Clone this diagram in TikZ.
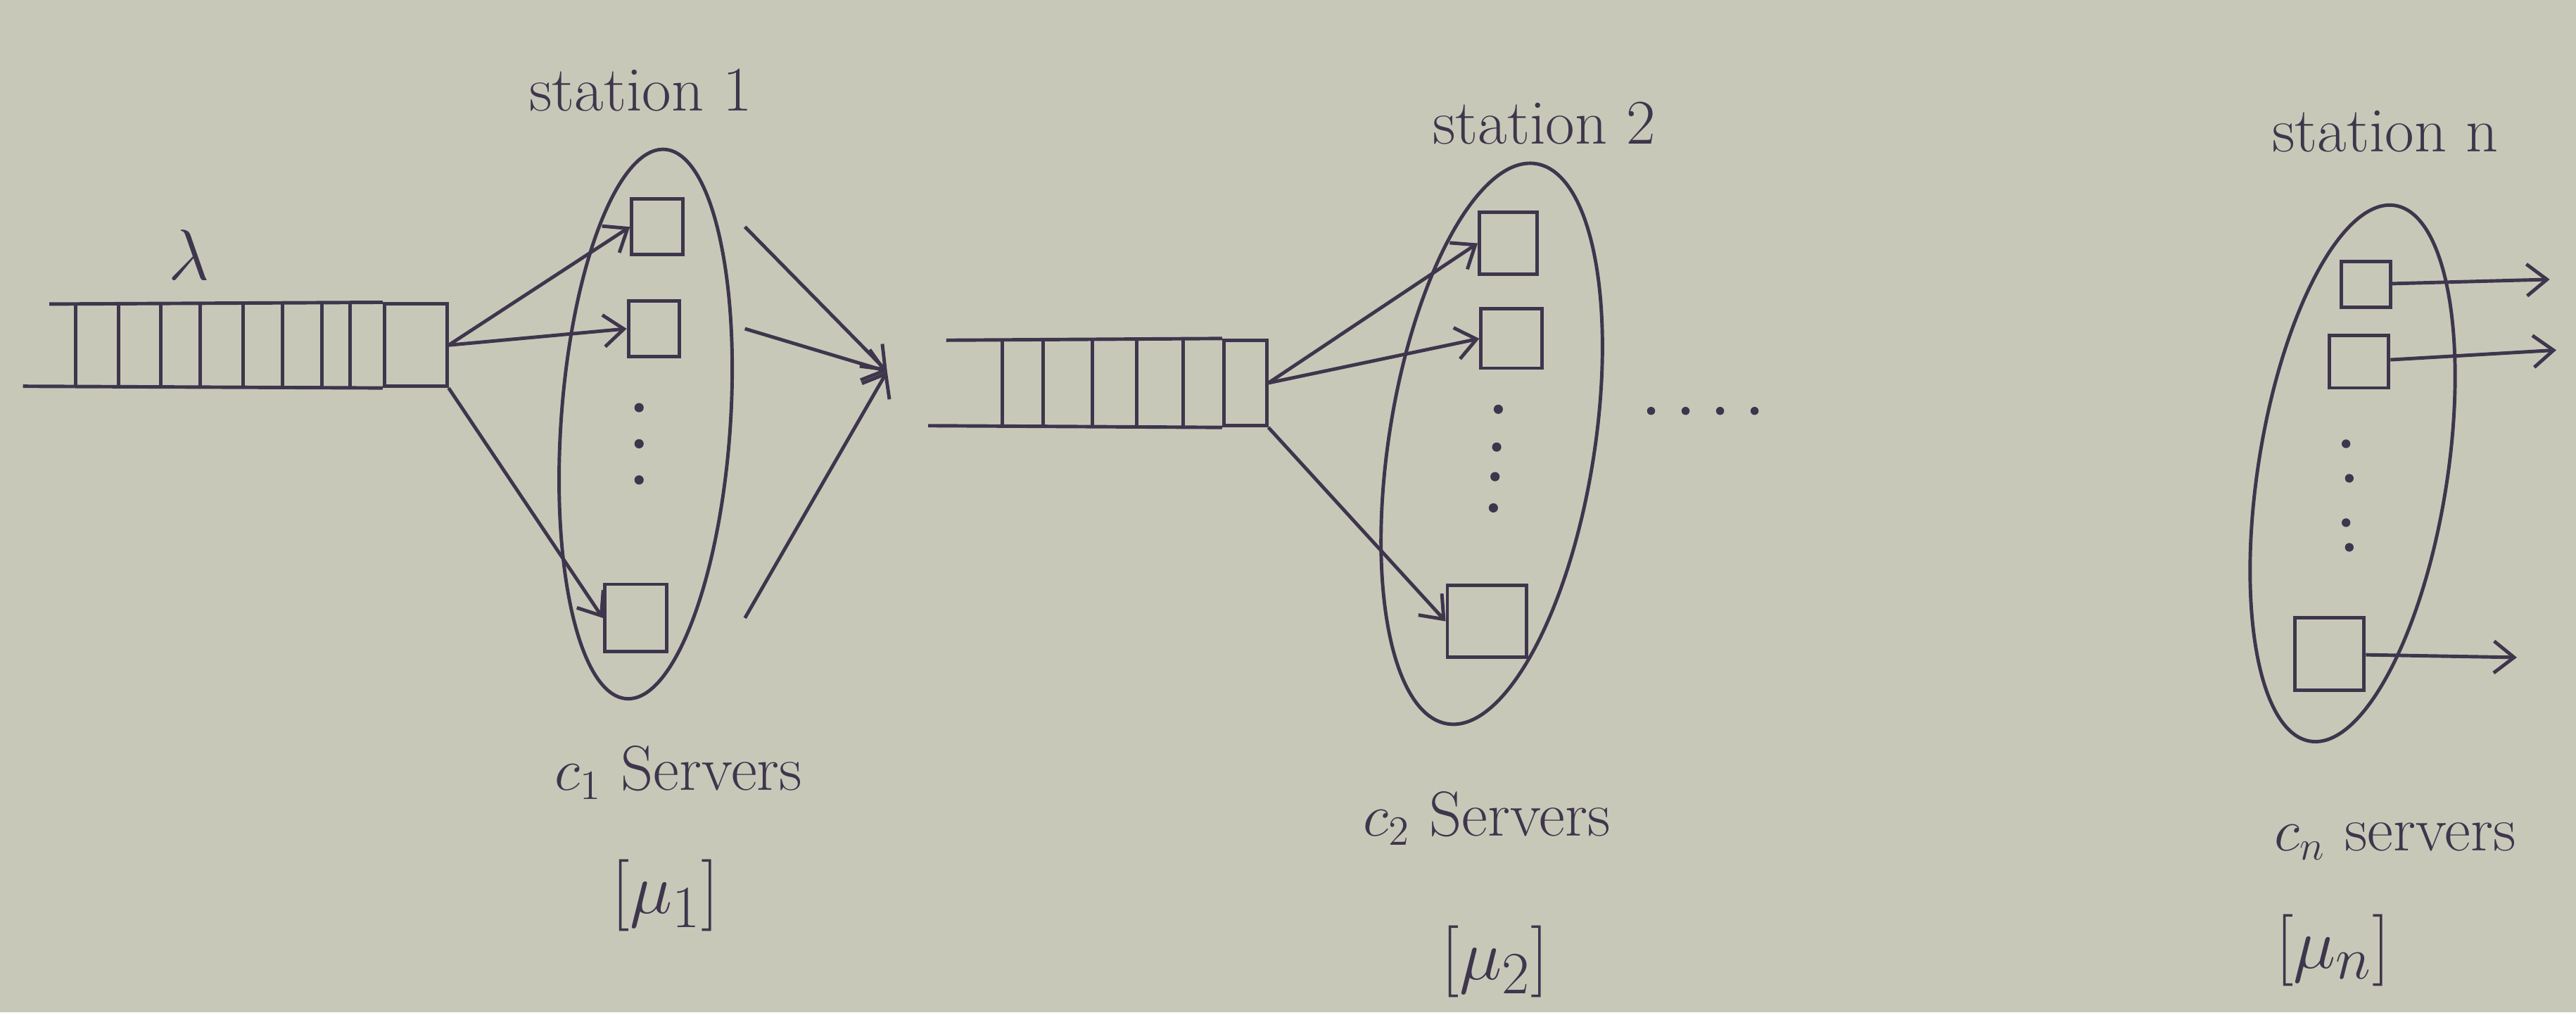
\documentclass[tikz,border=0pt]{standalone}
\usepackage{amsmath}
\usetikzlibrary{arrows.meta,shapes.geometric}
\definecolor{paper}{RGB}{200,200,185}
\definecolor{ink}{RGB}{62,54,76}

\begin{document}
\begin{tikzpicture}[x=0.2mm, y=-0.2mm, ink, line width=1.2pt,
  srv/.style={rectangle, draw, minimum width=6.2mm, minimum height=6.8mm, inner sep=0pt},
  bigsrv/.style={srv, minimum width=7.6mm, minimum height=8.2mm},
  pool/.style={ellipse, draw, inner sep=0pt},
  cell/.style={rectangle, draw, minimum width=7.6mm, minimum height=10mm, inner sep=0pt},
  lab/.style={font=\fontsize{22}{26}\selectfont, inner sep=1pt},
  mlab/.style={font=\fontsize{30}{34}\selectfont, inner sep=1pt},
  arr/.style={-{Straight Barb[length=7pt, width=11pt]}}
]
  % ---------------- sheet ----------------
  \fill[paper] (0,0) rectangle (1568,616);
  \useasboundingbox (0,0) rectangle (1568,616);
  % ---------------- queues ----------------
  \node[cell] (q1) at (253,210) {};
  \draw (30,185) -- (q1.north west);
  \draw (14,235) -- (q1.south west);
  \foreach \x in {46,72,98,122,148,172,196,213}
    \draw (\x,185) -- (\x,235);
  \node[cell, minimum width=5.2mm, minimum height=10.4mm] (q2) at (758,233) {};
  \draw (576,207) -- (q2.north west);
  \draw (565,259) -- (q2.south west);
  \foreach \x in {610,635,665,692,720}
    \draw (\x,207) -- (\x,259);
  % ---------------- stations ----------------
  \node[pool, minimum width=20.6mm, minimum height=67mm, rotate=-4] (st1) at (393,258) {};
  \node[srv] (s11) at (400,138) {};
  \node[srv] (s12) at (398,200) {};
  \node[bigsrv] (s13) at (387,376) {};
  \foreach \y in {248,270,292}
    \fill (389,\y) circle (1.6pt);
  \node[pool, minimum width=25mm, minimum height=69mm, rotate=-9] (st2) at (908,270) {};
  \node[srv, minimum width=7mm, minimum height=7.6mm] (s21) at (918,148) {};
  \node[srv, minimum width=7.4mm, minimum height=7.2mm] (s22) at (920,206) {};
  \node[bigsrv, minimum width=9.6mm, minimum height=8.8mm] (s23) at (905,378) {};
  \foreach \x/\y in {912/249,911/272,910/290,909/309}
    \fill (\x,\y) circle (1.6pt);
  \node[pool, minimum width=23mm, minimum height=66mm, rotate=-9] (stN) at (1432,288) {};
  \node[srv, minimum width=6mm, minimum height=5.6mm] (sn1) at (1440,173) {};
  \node[srv, minimum width=7.2mm, minimum height=6.4mm] (sn2) at (1436,220) {};
  \node[bigsrv, minimum width=8.4mm, minimum height=8.8mm] (sn3) at (1418,398) {};
  \foreach \x/\y in {1428/270,1430/291,1428/318,1430/333}
    \fill (\x,\y) circle (1.5pt);
  % more stations in between
  \foreach \x in {1005,1026,1047,1068}
    \fill (\x,250) circle (1.4pt);
  % ---------------- labels ----------------
  \node[mlab] (lam) at (115,155) {$\lambda$};
  \node[lab] (t1) at (390,55) {station 1};
  \node[lab] (t2) at (940,75) {station 2};
  \node[lab] (tN) at (1452,80) {station n};
  \node[lab] (c1) at (413,470) {$c_1$ Servers};
  \node[mlab] (mu1) at (405,545) {$[\mu_1]$};
  \node[lab] (c2) at (905,498) {$c_2$ Servers};
  \node[mlab] (mu2) at (910,585) {$[\mu_2]$};
  \node[lab] (cN) at (1458,512) {$c_n$ servers};
  \node[mlab] (muN) at (1420,578) {$[\mu_n]$};
  % ---------------- connectors ----------------
  \draw[arr] (q1.east) -- (s11.west);
  \draw[arr] (q1.east) -- (s12.west);
  \draw[arr] (q1.south east) -- (s13.west);
  \coordinate (m1) at (540,226);
  \draw[arr] ([xshift=1.6mm]st1.east |- s11) -- (m1);
  \draw[arr] ([xshift=1.6mm]st1.east |- s12) -- (m1);
  \draw[arr] ([xshift=1.6mm]st1.east |- s13) -- (m1);
  \draw[arr] (q2.east) -- (s21.west);
  \draw[arr] (q2.east) -- (s22.west);
  \draw[arr] (q2.south east) -- (s23.west);
  \coordinate (o1) at (1552,170);
  \coordinate (o2) at (1556,213);
  \coordinate (o3) at (1532,400);
  \draw[arr] (sn1) -- (o1);
  \draw[arr] (sn2) -- (o2);
  \draw[arr] (sn3) -- (o3);
\end{tikzpicture}
\end{document}
